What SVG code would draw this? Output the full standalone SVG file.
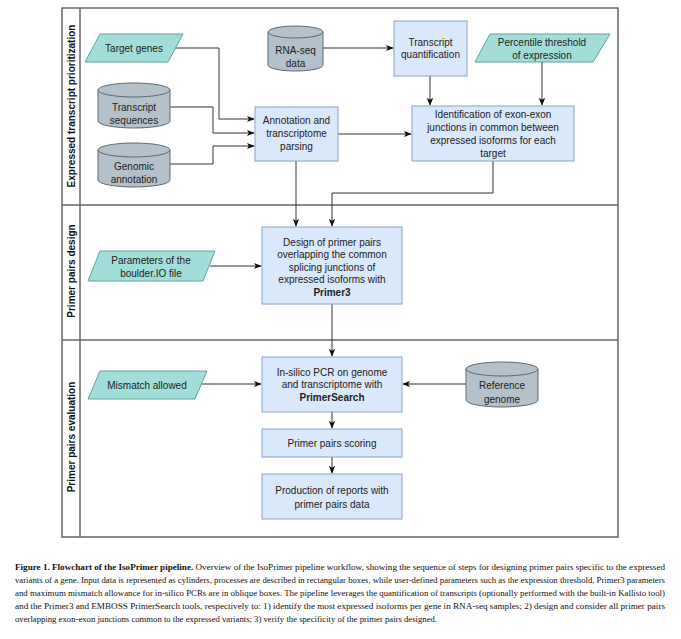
<svg xmlns="http://www.w3.org/2000/svg" width="681" height="639" viewBox="0 0 681 639">
<style>
.lane{fill:none;stroke:#666;stroke-width:1.5}
.proc{fill:#dae8fc;stroke:#8aa3c8;stroke-width:1}
.cyl{fill:#b4c1ca;stroke:#5e6a72;stroke-width:1}
.para{fill:#a3ddd9;stroke:#5fa5a2;stroke-width:1}
.t{font-family:"Liberation Sans",Arial,sans-serif;font-size:10px;fill:#222;text-anchor:middle}
.b{font-weight:bold}
.lt{font-family:"Liberation Sans",Arial,sans-serif;font-size:10px;font-weight:bold;fill:#111;text-anchor:middle}
.e{fill:none;stroke:#333;stroke-width:1;marker-end:url(#ah)}
.cap{font-family:"Liberation Serif","Times New Roman",serif;font-size:8.6px;fill:#111}
</style>
<defs>
<marker id="ah" viewBox="0 0 10 10" refX="9" refY="5" markerWidth="8" markerHeight="8" markerUnits="userSpaceOnUse" orient="auto">
<path d="M0,1 L10,5 L0,9 L2.5,5 z" fill="#111"/>
</marker>
</defs>
<rect width="681" height="639" fill="#fff"/>
<g id="lanes">
<rect class="lane" x="62" y="8" width="556" height="529"/>
<line class="lane" x1="80" y1="8" x2="80" y2="537"/>
<line class="lane" x1="62" y1="205" x2="618" y2="205"/>
<line class="lane" x1="62" y1="340" x2="618" y2="340"/>
<text class="lt" transform="translate(75,106) rotate(-90)">Expressed transcript prioritization</text>
<text class="lt" transform="translate(75,271) rotate(-90)">Primer pairs design</text>
<text class="lt" transform="translate(75,437) rotate(-90)">Primer pairs evaluation</text>
</g>
<g id="connectors">
<path class="e" d="M175,48 H219 V119 H254"/>
<path class="e" d="M170,107 H213 V133 H254"/>
<path class="e" d="M170,164 H213 V146 H254"/>
<path class="e" d="M323,48 H393"/>
<path class="e" d="M430,76 V105"/>
<path class="e" d="M542,62 V105"/>
<path class="e" d="M338,134 H411"/>
<path class="e" d="M296,161 V226"/>
<path class="e" d="M493,161 V193 H332 V226"/>
<path class="e" d="M210,266 H261"/>
<path class="e" d="M332,304 V356"/>
<path class="e" d="M200,384 H261"/>
<path class="e" d="M466,384 H403"/>
<path class="e" d="M332,412 V428"/>
<path class="e" d="M332,457 V473"/>
</g>
<g id="target-genes">
<polygon class="para" points="100,34 183,34 168,62 85,62"/>
<text class="t" x="134" y="51.5">Target genes</text>
</g>
<g id="rna-seq">
<path class="cyl" d="M268,32 a27.5,6 0 0 1 55,0 v33 a27.5,6 0 0 1 -55,0 z"/>
<path class="cyl" fill="none" d="M268,32 a27.5,6 0 0 0 55,0"/>
<text class="t" x="295.5" y="53.5">RNA-seq</text>
<text class="t" x="295.5" y="66.5">data</text>
</g>
<g id="transcript-sequences">
<path class="cyl" d="M98,90 a36,7 0 0 1 72,0 v31 a36,7 0 0 1 -72,0 z"/>
<path class="cyl" fill="none" d="M98,90 a36,7 0 0 0 72,0"/>
<text class="t" x="134" y="110.5">Transcript</text>
<text class="t" x="134" y="123.5">sequences</text>
</g>
<g id="genomic-annotation">
<path class="cyl" d="M98,150 a36,7 0 0 1 72,0 v30 a36,7 0 0 1 -72,0 z"/>
<path class="cyl" fill="none" d="M98,150 a36,7 0 0 0 72,0"/>
<text class="t" x="134" y="169.5">Genomic</text>
<text class="t" x="134" y="182.5">annotation</text>
</g>
<g id="annotation-parsing">
<rect class="proc" x="255" y="107" width="83" height="54"/>
<text class="t" x="296.5" y="123.5">Annotation and</text>
<text class="t" x="296.5" y="136.5">transcriptome</text>
<text class="t" x="296.5" y="149.5">parsing</text>
</g>
<g id="transcript-quantification">
<rect class="proc" x="394" y="21" width="73" height="55"/>
<text class="t" x="430.5" y="45.5">Transcript</text>
<text class="t" x="430.5" y="57.5">quantification</text>
</g>
<g id="percentile-threshold">
<polygon class="para" points="490,34 610,34 593,62 475,62"/>
<text class="t" x="542" y="45.5">Percentile threshold</text>
<text class="t" x="542" y="58.5">of expression</text>
</g>
<g id="identification">
<rect class="proc" x="412" y="106" width="162" height="55"/>
<text class="t" x="493" y="117.5">Identification of exon-exon</text>
<text class="t" x="493" y="130.5">junctions in common between</text>
<text class="t" x="493" y="143.5">expressed isoforms for each</text>
<text class="t" x="493" y="156.5">target</text>
</g>
<g id="parameters-boulder">
<polygon class="para" points="100,251 215,251 203,281 88,281"/>
<text class="t" x="151" y="263.5">Parameters of the</text>
<text class="t" x="151" y="276.5">boulder.IO file</text>
</g>
<g id="design-primers">
<rect class="proc" x="262" y="227" width="140" height="77"/>
<text class="t" x="332" y="245.5">Design of primer pairs</text>
<text class="t" x="332" y="258">overlapping the common</text>
<text class="t" x="332" y="270.5">splicing junctions of</text>
<text class="t" x="332" y="283">expressed isoforms with</text>
<text class="t b" x="332" y="295.5">Primer3</text>
</g>
<g id="mismatch-allowed">
<polygon class="para" points="100,371 207,371 195,399 88,399"/>
<text class="t" x="147" y="388.5">Mismatch allowed</text>
</g>
<g id="in-silico-pcr">
<rect class="proc" x="262" y="357" width="140" height="55"/>
<text class="t" x="332" y="375.5">In-silico PCR on genome</text>
<text class="t" x="332" y="388">and transcriptome with</text>
<text class="t b" x="332" y="400.5">PrimerSearch</text>
</g>
<g id="reference-genome">
<path class="cyl" d="M466,369 a36,7 0 0 1 72,0 v31 a36,7 0 0 1 -72,0 z"/>
<path class="cyl" fill="none" d="M466,369 a36,7 0 0 0 72,0"/>
<text class="t" x="502" y="388.5">Reference</text>
<text class="t" x="502" y="402.5">genome</text>
</g>
<g id="scoring">
<rect class="proc" x="262" y="429" width="140" height="28"/>
<text class="t" x="332" y="446.5">Primer pairs scoring</text>
</g>
<g id="reports">
<rect class="proc" x="262" y="474" width="140" height="45"/>
<text class="t" x="332" y="493.5">Production of reports with</text>
<text class="t" x="332" y="507.5">primer pairs data</text>
</g>
<g id="caption">
<text class="cap" x="15" y="570" textLength="650" lengthAdjust="spacingAndGlyphs"><tspan font-weight="bold">Figure 1. Flowchart of the IsoPrimer pipeline.</tspan> Overview of the IsoPrimer pipeline workflow, showing the sequence of steps for designing primer pairs specific to the expressed</text>
<text class="cap" x="15" y="583" textLength="650" lengthAdjust="spacingAndGlyphs">variants of a gene. Input data is represented as cylinders, processes are described in rectangular boxes, while user-defined parameters such as the expression threshold, Primer3 parameters</text>
<text class="cap" x="15" y="596" textLength="650" lengthAdjust="spacingAndGlyphs">and maximum mismatch allowance for in-silico PCRs are in oblique boxes. The pipeline leverages the quantification of transcripts (optionally performed with the built-in Kallisto tool)</text>
<text class="cap" x="15" y="609" textLength="650" lengthAdjust="spacingAndGlyphs">and the Primer3 and EMBOSS PrimerSearch tools, respectively to: 1) identify the most expressed isoforms per gene in RNA-seq samples; 2) design and consider all primer pairs</text>
<text class="cap" x="15" y="622" textLength="422" lengthAdjust="spacingAndGlyphs">overlapping exon-exon junctions common to the expressed variants; 3) verify the specificity of the primer pairs designed.</text>
</g>
</svg>
